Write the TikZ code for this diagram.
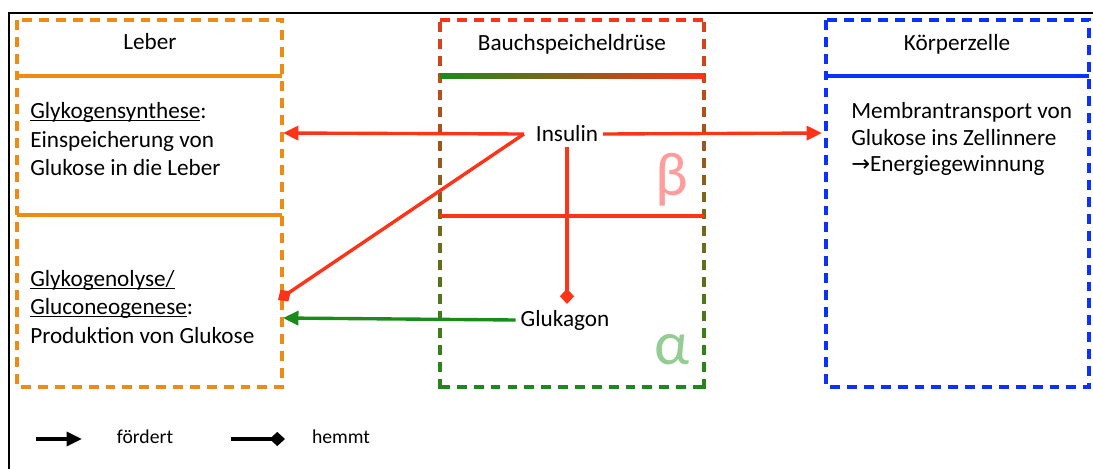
\documentclass[tikz,border=0pt]{standalone}
\usepackage{fontspec}
\setmainfont{Carlito}
\newfontfamily\symfont{DejaVu Sans}
\usetikzlibrary{arrows.meta,positioning}
\definecolor{Orange}{HTML}{EF8A12}
\definecolor{Red}{HTML}{FF3318}
\definecolor{Green}{HTML}{1A8A1A}
\definecolor{Blue}{HTML}{0A32FF}
\definecolor{BetaRed}{HTML}{FF9C9C}
\definecolor{AlphaGreen}{HTML}{94CC94}
\newcommand\ulin[1]{\underline{\smash{#1}}}

\begin{document}
\begin{tikzpicture}[x=0.025cm,y=-0.025cm,
    organ/.style={line width=2.3pt,dash pattern=on 7pt off 5pt},
    sep/.style={line width=2.4pt},
    label/.style={font=\fontsize{16.5}{20}\selectfont},
    txt/.style={font=\fontsize{16.5}{20.2}\selectfont,align=left,anchor=north west,inner sep=0pt},
    legend/.style={font=\fontsize{14}{17}\selectfont},
    foerd/.style={line width=2.4pt,-{Triangle[length=11pt,width=10pt]}},
    hemm/.style={line width=2.4pt,-{Diamond[length=11pt,width=10pt]}},
    greek/.style={font=\fontsize{44}{50}\selectfont}]
  \useasboundingbox (0,0) rectangle (1093,468);
  \draw[line width=1.6pt] (9,480) |- (1100,13);

  % Leber
  \draw[organ,Orange] (17,20) rectangle (282,387);
  \draw[sep,Orange] (17,76) -- (282,76);
  \draw[sep,Orange] (17,215) -- (282,215);
  % Bauchspeicheldruese
  \draw[organ,Red] (440,20) -- (704,20);
  \draw[organ,Green] (440,387) -- (704,387);
  \foreach \s in {0,...,21}{
    \pgfmathtruncatemacro\p{85-\s*80/21}
    \draw[line width=2.3pt,Red!\p!Green] (440,{22+\s*17}) -- ++(0,10);
    \draw[line width=2.3pt,Red!\p!Green] (704,{22+\s*17}) -- ++(0,10);
  }
  \shade[left color=Green,right color=Red] (440,73.5) rectangle (704,78.5);
  \draw[sep,Red] (440,216) -- (704,216);
  % Koerperzelle
  \draw[organ,Blue] (826,20) rectangle (1089,387);
  \draw[sep,Blue] (826,76) -- (1089,76);

  \node[label] (leber) at (150,42) {Leber};
  \node[label] (bsd) at (572,44) {Bauchspeicheldrüse};
  \node[label] (kz) at (957,44) {Körperzelle};
  \node[txt] (synth) at (30,108) {\ulin{Glykogensynthese}:\\Einspeicherung von\\Glukose in die Leber};
  \node[txt] (lyse) at (30,286) {\ulin{Glykogenolyse/}\\\ulin{Gluconeogenese}:\\Produktion von Glukose};
  \node[txt,font=\fontsize{16.5}{19}\selectfont] (transp) at (851,102)
    {Membrantransport von\\Glukose ins Zellinnere\\{\symfont\fontsize{16}{19}\selectfont →}Energiegewinnung};

  \node[label] (ins) at (567,134) {Insulin};
  \node[label] (glu) at (565,320) {Glukagon};
  \node[greek,BetaRed] (beta) at (672,180) {β};
  \node[greek,AlphaGreen] (alpha) at (672,350) {α};

  \coordinate (synIn) at (283,133);
  \coordinate (lyseIn) at (278,300);
  \coordinate (lyseIn2) at (283,318);
  \coordinate (kzIn) at (822,133);
  \coordinate (gluIn) at (567,304);
  \draw[foerd,Red] ([xshift=-5pt]ins.west) -- (synIn);
  \draw[hemm,Red] ([xshift=-5pt]ins.west) -- (lyseIn);
  \draw[foerd,Red] (ins.east) -- (kzIn);
  \draw[hemm,Red] (ins.south) -- (gluIn);
  \draw[foerd,Green] (glu.west) -- (lyseIn2);

  % Legende
  \coordinate (fa) at (36,439);
  \coordinate (fb) at (82,439);
  \coordinate (ha) at (231,439);
  \coordinate (hb) at (285,439);
  \draw[foerd] (fa) -- (fb);
  \draw[hemm] (ha) -- (hb);
  \node[legend] (foerdert) at (145,437) {fördert};
  \node[legend] (hemmt) at (341,437) {hemmt};
\end{tikzpicture}
\end{document}
